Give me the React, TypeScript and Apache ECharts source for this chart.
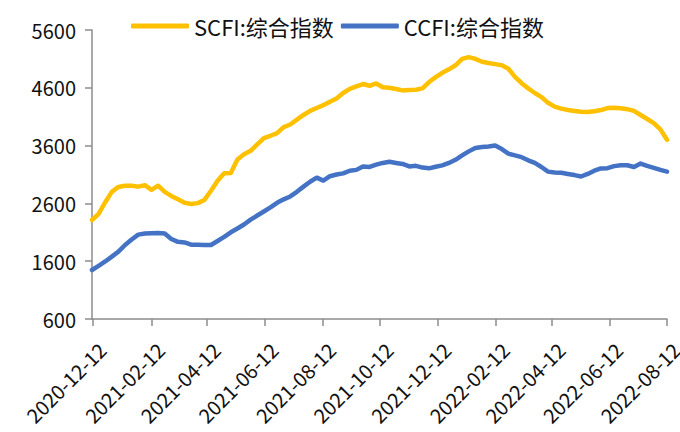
import { useEffect, useRef } from "react";
import * as echarts from "echarts";

const dates: string[] = [
  "2020-12-11", "2020-12-18", "2020-12-25",
  "2021-01-01", "2021-01-08", "2021-01-15", "2021-01-22", "2021-01-29",
  "2021-02-05", "2021-02-12", "2021-02-19", "2021-02-26",
  "2021-03-05", "2021-03-12", "2021-03-19", "2021-03-26",
  "2021-04-02", "2021-04-09", "2021-04-16", "2021-04-23", "2021-04-30",
  "2021-05-07", "2021-05-14", "2021-05-21", "2021-05-28",
  "2021-06-04", "2021-06-11", "2021-06-18", "2021-06-25",
  "2021-07-02", "2021-07-09", "2021-07-16", "2021-07-23", "2021-07-30",
  "2021-08-06", "2021-08-13", "2021-08-20", "2021-08-27",
  "2021-09-03", "2021-09-10", "2021-09-17", "2021-09-24",
  "2021-10-01", "2021-10-08", "2021-10-15", "2021-10-22", "2021-10-29",
  "2021-11-05", "2021-11-12", "2021-11-19", "2021-11-26",
  "2021-12-03", "2021-12-10", "2021-12-17", "2021-12-24", "2021-12-31",
  "2022-01-07", "2022-01-14", "2022-01-21", "2022-01-28",
  "2022-02-04", "2022-02-11", "2022-02-18", "2022-02-25",
  "2022-03-04", "2022-03-11", "2022-03-18", "2022-03-25",
  "2022-04-01", "2022-04-08", "2022-04-15", "2022-04-22", "2022-04-29",
  "2022-05-06", "2022-05-13", "2022-05-20", "2022-05-27",
  "2022-06-03", "2022-06-10", "2022-06-17", "2022-06-24",
  "2022-07-01", "2022-07-08", "2022-07-15", "2022-07-22", "2022-07-29",
  "2022-08-05", "2022-08-12",
];

const scfi: number[] = [
  2313, 2420, 2620, 2800, 2885, 2905, 2905, 2890, 2915, 2835,
  2906, 2800, 2730, 2670, 2610, 2590, 2605, 2660, 2820, 2990,
  3120, 3125, 3360, 3450, 3510, 3620, 3730, 3770, 3815, 3920,
  3965, 4050, 4130, 4200, 4250, 4300, 4360, 4415, 4510, 4580,
  4625, 4665, 4635, 4675, 4610, 4600, 4580, 4555, 4560, 4565,
  4590, 4700, 4785, 4860, 4920, 4990, 5100, 5130, 5100, 5050,
  5030, 5010, 4990, 4930, 4790, 4680, 4590, 4510, 4440, 4340,
  4275, 4240, 4215, 4200, 4185, 4180, 4195, 4215, 4250, 4255,
  4245, 4230, 4200, 4130, 4060, 3990, 3880, 3700,
];

const ccfi: number[] = [
  1448, 1520, 1595, 1680, 1765, 1880, 1975, 2060, 2080, 2085,
  2088, 2080, 1985, 1935, 1925, 1885, 1885, 1880, 1880, 1950,
  2020, 2100, 2165, 2235, 2320, 2390, 2460, 2530, 2610, 2670,
  2720, 2800, 2890, 2975, 3045, 2995, 3070, 3100, 3120, 3165,
  3180, 3240, 3230, 3270, 3300, 3320, 3300, 3282, 3240, 3250,
  3220, 3207, 3235, 3258, 3300, 3355, 3430, 3500, 3560, 3575,
  3585, 3600, 3540, 3460, 3430, 3400, 3345, 3300, 3230, 3150,
  3135, 3130, 3110, 3090, 3065, 3110, 3165, 3205, 3210, 3245,
  3260, 3260, 3230, 3290, 3250, 3215, 3180, 3150,
];

const tickLabels: string[] = [
  "2020-12-12", "2021-02-12", "2021-04-12", "2021-06-12", "2021-08-12",
  "2021-10-12", "2021-12-12", "2022-02-12", "2022-04-12", "2022-06-12",
  "2022-08-12",
];

const seriesNames = ["SCFI:综合指数", "CCFI:综合指数"];

function ts(s: string): number {
  const [y, m, d] = s.split("-").map(Number);
  return Date.UTC(y, m - 1, d);
}
function fmt(v: number): string {
  const d = new Date(v);
  const p = (n: number) => String(n).padStart(2, "0");
  return `${d.getUTCFullYear()}-${p(d.getUTCMonth() + 1)}-${p(d.getUTCDate())}`;
}

const FONT = '"Noto Sans CJK SC", "Noto Sans", sans-serif';

export default function App() {
  const ref = useRef<HTMLDivElement>(null);
  useEffect(() => {
    if (!ref.current) return;
    const chart = echarts.init(ref.current, undefined, { renderer: "svg" });
    const tickVals = tickLabels.map(ts);
    chart.setOption({
      animation: false,
      backgroundColor: "#ffffff",
      textStyle: { fontFamily: FONT },
      legend: {
        data: seriesNames,
        left: 126,
        top: 10,
        icon: "roundRect",
        itemWidth: 58,
        itemHeight: 5,
        itemGap: 7,
        textStyle: { fontSize: 22, color: "#111", fontFamily: FONT },
      },
      grid: {
        left: 92,
        right: 13,
        top: 30,
        bottom: 113,
        containLabel: false,
        outerBoundsMode: "none",
      },
      xAxis: {
        type: "value",
        min: ts(dates[0]),
        max: ts(dates[dates.length - 1]),
        splitLine: { show: false },
        axisLine: { lineStyle: { color: "#8c8c8c", width: 1.5 } },
        axisTick: { show: true, customValues: tickVals, length: 7, lineStyle: { color: "#8c8c8c", width: 1.5 } },
        axisLabel: {
          customValues: tickVals,
          rotate: 45,
          fontSize: 20,
          color: "#111",
          fontFamily: FONT,
          margin: 18,
          verticalAlign: "top",
          padding: [3, 0, 0, 0],
          showMinLabel: true,
          showMaxLabel: true,
          formatter: (v: number) => fmt(v),
        },
      },
      yAxis: {
        type: "value",
        min: 600,
        max: 5600,
        interval: 1000,
        splitLine: { show: false },
        axisLine: { show: true, lineStyle: { color: "#8c8c8c", width: 1.5 } },
        axisTick: { show: true, length: 7, lineStyle: { color: "#8c8c8c", width: 1.5 } },
        axisLabel: {
          fontSize: 20,
          color: "#111",
          fontFamily: FONT,
          margin: 16,
          formatter: (v: number) => String(v),
        },
      },
      series: [
        {
          name: seriesNames[0],
          type: "line",
          data: dates.map((d, i) => [ts(d), scfi[i]]),
          showSymbol: false,
          symbol: "none",
          lineStyle: { color: "#FFC000", width: 4.5, cap: "round", join: "round" },
          itemStyle: { color: "#FFC000" },
        },
        {
          name: seriesNames[1],
          type: "line",
          data: dates.map((d, i) => [ts(d), ccfi[i]]),
          showSymbol: false,
          symbol: "none",
          lineStyle: { color: "#4472C4", width: 4.5, cap: "round", join: "round" },
          itemStyle: { color: "#4472C4" },
        },
      ],
    });
    return () => chart.dispose();
  }, []);
  return (
    <div
      ref={ref}
      style={{ position: "fixed", left: 0, top: 0, width: 680, height: 432 }}
    />
  );
}
